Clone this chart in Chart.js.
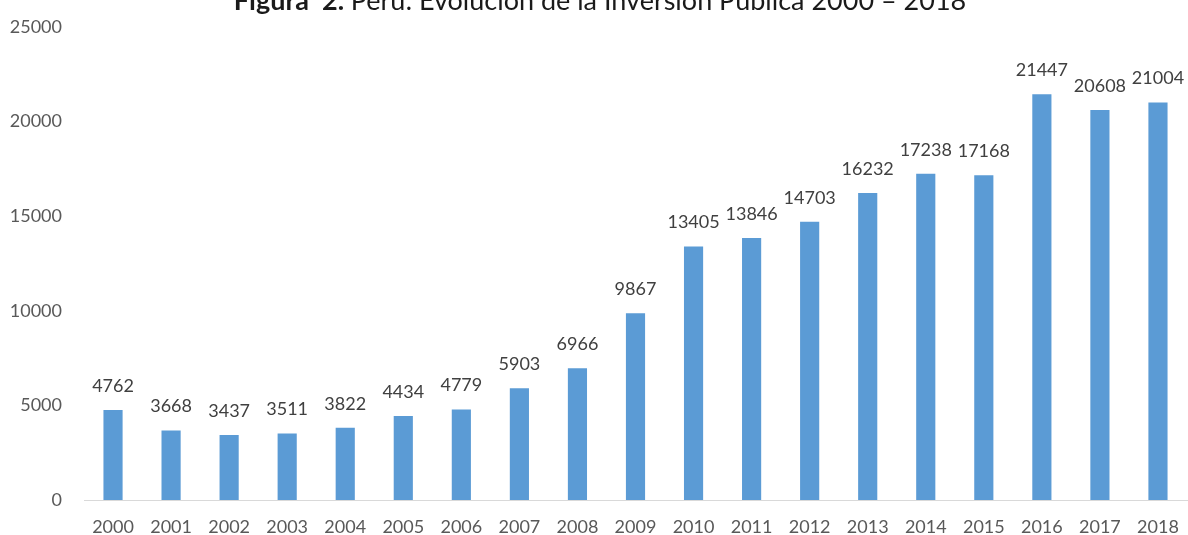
<!DOCTYPE html>
<html>
<head>
<meta charset="utf-8">
<script src="https://cdn.jsdelivr.net/npm/chart.js@4/dist/chart.umd.min.js"></script>
<style>
  html, body { margin: 0; padding: 0; background: #fff; }
  #wrap { width: 1188px; height: 535px; }
</style>
</head>
<body>
<div id="wrap"><canvas id="chart" width="1188" height="535"></canvas></div>
<script>
// Perú: inversión pública 2000 - 2018
const years = ['2000','2001','2002','2003','2004','2005','2006','2007','2008','2009',
  '2010','2011','2012','2013','2014','2015','2016','2017','2018'];
const inversion = [4762, 3668, 3437, 3511, 3822, 4434, 4779, 5903, 6966, 9867,
  13405, 13846, 14703, 16232, 17238, 17168, 21447, 20608, 21004];
const yTicks = [0, 5000, 10000, 15000, 20000, 25000];

const FONT = 'Lato, "Open Sans", sans-serif';

// title is drawn by hand, partly above the canvas edge like the original
const titlePlugin = {
  id: 'titleText',
  afterDraw(chart) {
    const ctx = chart.ctx;
    ctx.save();
    ctx.textBaseline = 'alphabetic';
    ctx.fillStyle = '#1a1a1a';
    const bold = 'bold 27px ' + FONT;
    const norm = '27px ' + FONT;
    const a = 'Figura  2. ';
    const b = 'Perú: Evolución de la Inversión Pública 2000 – 2018';
    ctx.font = bold;
    const wa = ctx.measureText(a).width;
    ctx.font = norm;
    const wb = ctx.measureText(b).width;
    let x = 600 - (wa + wb) / 2;
    ctx.font = bold;
    ctx.fillText(a, x, 10);
    ctx.font = norm;
    ctx.fillText(b, x + wa, 10);
    ctx.restore();
  }
};

// value labels above the bars
const labelPlugin = {
  id: 'barLabels',
  afterDatasetsDraw(chart) {
    const ctx = chart.ctx;
    const meta = chart.getDatasetMeta(0);
    ctx.save();
    ctx.font = '18px ' + FONT;
    ctx.fillStyle = '#404040';
    ctx.textAlign = 'center';
    ctx.textBaseline = 'middle';
    meta.data.forEach((bar, i) => {
      ctx.fillText(String(inversion[i]), bar.x, bar.y - 24);
    });
    ctx.restore();
  }
};

new Chart(document.getElementById('chart'), {
  type: 'bar',
  data: {
    labels: years,
    datasets: [{
      data: inversion,
      backgroundColor: '#5b9bd5',
      borderWidth: 0,
      barPercentage: 0.33,
      categoryPercentage: 1
    }]
  },
  options: {
    responsive: false,
    animation: false,
    layout: { padding: { top: 27, right: 1, left: 0, bottom: 0 } },
    plugins: {
      legend: { display: false },
      tooltip: { enabled: false }
    },
    scales: {
      x: {
        grid: { display: false, drawTicks: false },
        border: { display: true, color: '#d9d9d9', width: 1 },
        ticks: { color: '#595959', font: { family: FONT, size: 18 }, padding: 16, maxRotation: 0 },
        afterFit(scale) {
          scale.height = 35;
          scale.paddingLeft = 0;
          scale.paddingRight = 0;
        }
      },
      y: {
        min: 0,
        max: 25000,
        afterBuildTicks(scale) { scale.ticks = yTicks.map(v => ({ value: v })); },
        grid: { display: false, drawTicks: false },
        border: { display: false },
        ticks: {
          color: '#595959',
          font: { family: FONT, size: 18 },
          padding: 22,
          callback: v => String(v)
        },
        afterFit(scale) {
          scale.width = 84;
          scale.paddingTop = 0;
          scale.paddingBottom = 0;
        }
      }
    }
  },
  plugins: [titlePlugin, labelPlugin]
});
</script>
</body>
</html>
